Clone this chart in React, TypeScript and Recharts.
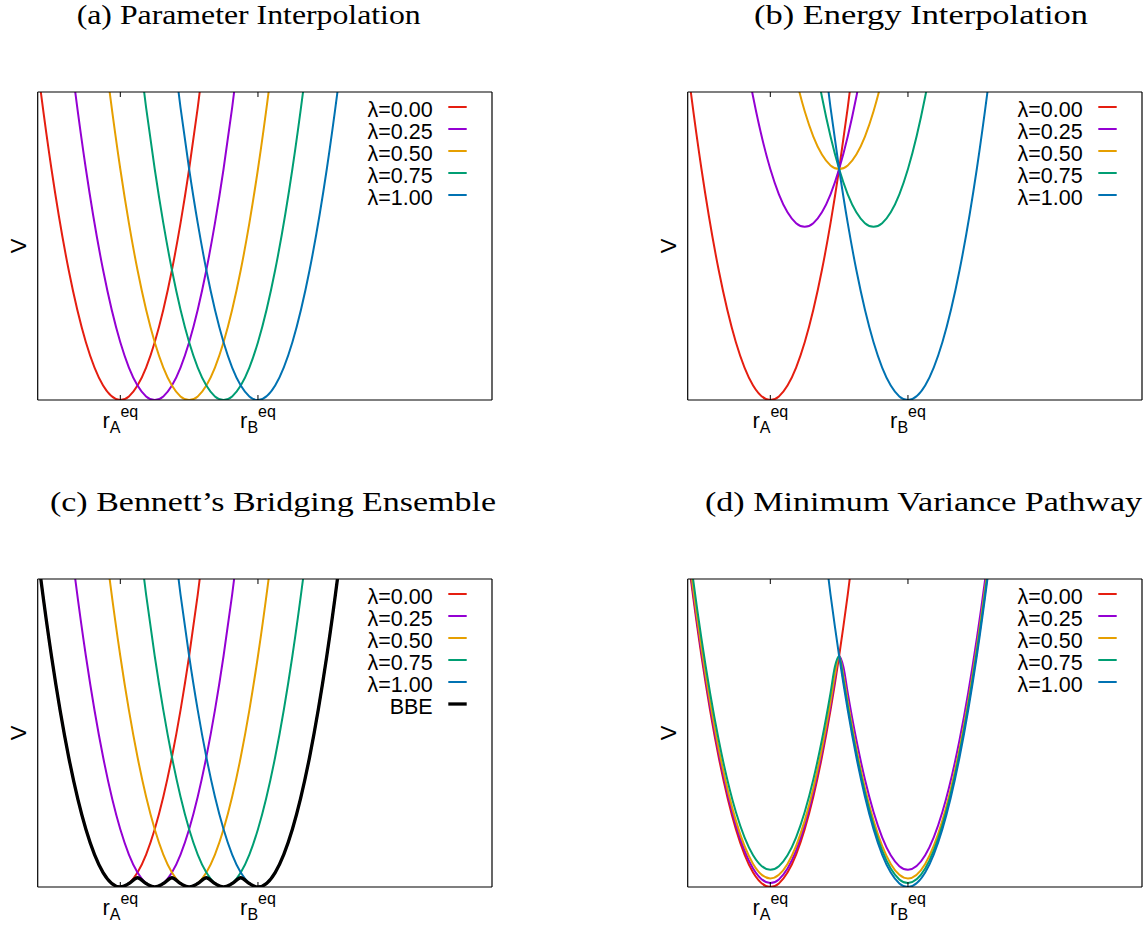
import React from "react";
import { LineChart, Line, XAxis, YAxis, Legend, Label } from "recharts";

const SANS = '"Liberation Sans", Arial, sans-serif';
const SERIF = '"Liberation Serif", "Times New Roman", serif';

// x positions (r, in units where r_A^eq = 0 and r_B^eq = 1)
const X_GRID = [
  -0.75, -0.625, -0.5, -0.375, -0.25, -0.125, 0, 0.0625, 0.125, 0.1875, 0.25, 0.3125, 0.375, 0.4375,
  0.5, 0.5625, 0.625, 0.6875, 0.75, 0.8125, 0.875, 0.9375, 1, 1.125, 1.25, 1.375, 1.5, 1.625, 1.75,
];
// panel (d) needs a couple of extra points around the crossing
const X_GRID_D = [
  -0.75, -0.625, -0.5, -0.375, -0.25, -0.125, 0, 0.0625, 0.125, 0.1875, 0.25, 0.3125, 0.375, 0.4375,
  0.46875, 0.5, 0.53125, 0.5625, 0.625, 0.6875, 0.75, 0.8125, 0.875, 0.9375, 1, 1.125, 1.25, 1.375,
  1.5, 1.625, 1.75,
];

const X_DOMAIN = [-0.6, 2.7];
const TICK_VALUES = [0, 1];
const TICK_SUBS = ["A", "B"];

const LAMBDA_LABELS = ["λ=0.00", "λ=0.25", "λ=0.50", "λ=0.75", "λ=1.00"];
const LAMBDA_COLORS = ["#e51e10", "#9400d3", "#e69f00", "#009e73", "#0072b2"];

const TITLES = [
  "(a) Parameter Interpolation",
  "(b) Energy Interpolation",
  "(c) Bennett’s Bridging Ensemble",
  "(d) Minimum Variance Pathway",
];

const _ = null;

// (a) / (c) parameter interpolation
const PAR_000 = [1.6875, 1.1719, 0.75, 0.4219, 0.1875, 0.0469, 0, 0.0117, 0.0469, 0.1055, 0.1875, 0.293, 0.4219, 0.5742, 0.75, 0.9492, 1.1719, 1.418, 1.6875, _, _, _, _, _, _, _, _, _, _];
const PAR_025 = [_, _, 1.6875, 1.1719, 0.75, 0.4219, 0.1875, 0.1055, 0.0469, 0.0117, 0, 0.0117, 0.0469, 0.1055, 0.1875, 0.293, 0.4219, 0.5742, 0.75, 0.9492, 1.1719, 1.418, 1.6875, _, _, _, _, _, _];
const PAR_050 = [_, _, _, _, 1.6875, 1.1719, 0.75, 0.5742, 0.4219, 0.293, 0.1875, 0.1055, 0.0469, 0.0117, 0, 0.0117, 0.0469, 0.1055, 0.1875, 0.293, 0.4219, 0.5742, 0.75, 1.1719, 1.6875, _, _, _, _];
const PAR_075 = [_, _, _, _, _, _, 1.6875, 1.418, 1.1719, 0.9492, 0.75, 0.5742, 0.4219, 0.293, 0.1875, 0.1055, 0.0469, 0.0117, 0, 0.0117, 0.0469, 0.1055, 0.1875, 0.4219, 0.75, 1.1719, 1.6875, _, _];
const PAR_100 = [_, _, _, _, _, _, _, _, _, _, 1.6875, 1.418, 1.1719, 0.9492, 0.75, 0.5742, 0.4219, 0.293, 0.1875, 0.1055, 0.0469, 0.0117, 0, 0.0469, 0.1875, 0.4219, 0.75, 1.1719, 1.6875];
const BBE = [1.6875, 1.1719, 0.75, 0.4219, 0.1875, 0.0469, 0, 0.0112, 0.03, 0.0112, 0, 0.0112, 0.03, 0.0112, 0, 0.0112, 0.03, 0.0112, 0, 0.0112, 0.03, 0.0112, 0, 0.0469, 0.1875, 0.4219, 0.75, 1.1719, 1.6875];

// (b) energy interpolation
const EN_000 = PAR_000;
const EN_025 = [_, _, _, 1.7344, 1.3125, 0.9844, 0.75, 0.668, 0.6094, 0.5742, 0.5625, 0.5742, 0.6094, 0.668, 0.75, 0.8555, 0.9844, 1.1367, 1.3125, 1.5117, _, _, _, _, _, _, _, _, _];
const EN_050 = [_, _, _, _, _, _, _, 1.3242, 1.1719, 1.043, 0.9375, 0.8555, 0.7969, 0.7617, 0.75, 0.7617, 0.7969, 0.8555, 0.9375, 1.043, 1.1719, 1.3242, _, _, _, _, _, _, _];
const EN_075 = [_, _, _, _, _, _, _, _, _, 1.5117, 1.3125, 1.1367, 0.9844, 0.8555, 0.75, 0.668, 0.6094, 0.5742, 0.5625, 0.5742, 0.6094, 0.668, 0.75, 0.9844, 1.3125, 1.7344, _, _, _];
const EN_100 = PAR_100;

// (d) minimum variance pathway
const MVP_000 = [1.6875, 1.1719, 0.75, 0.4219, 0.1875, 0.0469, 0, 0.0117, 0.0469, 0.1055, 0.1875, 0.293, 0.4219, 0.5742, 0.6592, 0.75, 0.8467, 0.9492, 1.1719, 1.418, 1.6875, _, _, _, _, _, _, _, _, _, _];
const MVP_025 = [1.7005, 1.1849, 0.763, 0.4349, 0.2005, 0.0599, 0.013, 0.0247, 0.0599, 0.1185, 0.2005, 0.306, 0.4349, 0.5872, 0.672, 0.75, 0.714, 0.63, 0.478, 0.349, 0.2435, 0.1615, 0.1029, 0.0677, 0.056, 0.1029, 0.2435, 0.4779, 0.806, 1.2279, 1.7435];
const MVP_050 = [1.7155, 1.1999, 0.778, 0.4499, 0.2155, 0.0749, 0.028, 0.0397, 0.0749, 0.1335, 0.2155, 0.321, 0.4499, 0.6022, 0.687, 0.75, 0.687, 0.6022, 0.4499, 0.321, 0.2155, 0.1335, 0.0749, 0.0397, 0.028, 0.0749, 0.2155, 0.4499, 0.778, 1.1999, 1.7155];
const MVP_075 = [1.7435, 1.2279, 0.806, 0.4779, 0.2435, 0.1029, 0.056, 0.0677, 0.1029, 0.1615, 0.2435, 0.349, 0.478, 0.63, 0.714, 0.75, 0.672, 0.5872, 0.4349, 0.306, 0.2005, 0.1185, 0.0599, 0.0247, 0.013, 0.0599, 0.2005, 0.4349, 0.763, 1.1849, 1.7005];
const MVP_100 = [_, _, _, _, _, _, _, _, _, _, 1.6875, 1.418, 1.1719, 0.9492, 0.8467, 0.75, 0.6592, 0.5742, 0.4219, 0.293, 0.1875, 0.1055, 0.0469, 0.0117, 0, 0.0469, 0.1875, 0.4219, 0.75, 1.1719, 1.6875];

type Series = { key: string; name: string; color: string; width: number };

const LAMBDA_SERIES: Series[] = LAMBDA_LABELS.map((name, i) => ({
  key: `s${i}`,
  name,
  color: LAMBDA_COLORS[i],
  width: 2,
}));
const BBE_SERIES: Series[] = [...LAMBDA_SERIES, { key: "s5", name: "BBE", color: "#000000", width: 3.3 }];

function buildRows(xs: number[], cols: (number | null)[][]) {
  return xs.map((x, i) => {
    const row: Record<string, number | null> = { x };
    cols.forEach((c, j) => {
      row[`s${j}`] = c[i];
    });
    return row;
  });
}

const ROWS_A = buildRows(X_GRID, [PAR_000, PAR_025, PAR_050, PAR_075, PAR_100]);
const ROWS_B = buildRows(X_GRID, [EN_000, EN_025, EN_050, EN_075, EN_100]);
const ROWS_C = buildRows(X_GRID, [PAR_000, PAR_025, PAR_050, PAR_075, PAR_100, BBE]);
const ROWS_D = buildRows(X_GRID_D, [MVP_000, MVP_025, MVP_050, MVP_075, MVP_100]);

function BottomTick(props: any) {
  const { x, y, payload } = props;
  const sub = TICK_SUBS[TICK_VALUES.indexOf(payload.value)];
  return (
    <g>
      <line x1={x} x2={x} y1={y} y2={y - 5} stroke="#000" strokeWidth={1} />
      <text x={x} y={y + 28} textAnchor="middle" fontFamily={SANS} fontSize={22} fill="#000">
        r
        <tspan dy={5} fontSize={16}>{sub}</tspan>
        <tspan dy={-16} fontSize={16}>eq</tspan>
      </text>
    </g>
  );
}

function TopTick(props: any) {
  const { x, y } = props;
  return <line x1={x} x2={x} y1={y} y2={y + 5} stroke="#000" strokeWidth={1} />;
}

function VLabel(props: any) {
  const vb = props.viewBox || { x: 36.7, y: 40, width: 1, height: 308 };
  const cx = vb.x + vb.width - 19;
  const cy = vb.y + vb.height / 2;
  return (
    <text
      x={cx}
      y={cy}
      transform={`rotate(-90, ${cx}, ${cy})`}
      textAnchor="middle"
      dominantBaseline="central"
      fontFamily={SANS}
      fontSize={22}
      fill="#000"
    >
      V
    </text>
  );
}

function makeLegend(series: Series[]) {
  return function LegendBox(props: any) {
    const payload: any[] = props.payload || [];
    const items = series.map((s) => {
      const p = payload.find((e) => e.dataKey === s.key);
      return {
        name: p ? p.value : s.name,
        color: p ? p.color : s.color,
        width: p && p.payload && p.payload.strokeWidth ? p.payload.strokeWidth : s.width,
      };
    });
    return (
      <svg width={140} height={145} style={{ display: "block" }}>
        {items.map((it, i) => (
          <g key={it.name}>
            <text x={92.7} y={25 + 22 * i} textAnchor="end" fontFamily={SANS} fontSize={21.5} fill="#000">
              {it.name}
            </text>
            <line x1={108.3} x2={126.7} y1={15 + 22 * i} y2={15 + 22 * i} stroke={it.color} strokeWidth={it.width} />
          </g>
        ))}
      </svg>
    );
  };
}

const FRAME = { stroke: "#000", strokeWidth: 1.2 };

function Panel({ left, top, rows, series }: { left: number; top: number; rows: any[]; series: Series[] }) {
  return (
    <div style={{ position: "absolute", left, top }}>
      <LineChart width={520} height={395} data={rows} margin={{ top: 39, right: 27, bottom: 7, left: 36.7 }}>
        {series.map((s) => (
          <Line
            key={s.key}
            type="monotone"
            dataKey={s.key}
            name={s.name}
            stroke={s.color}
            strokeWidth={s.width}
            dot={false}
            activeDot={false}
            connectNulls={false}
            isAnimationActive={false}
          />
        ))}
        <XAxis
          type="number"
          dataKey="x"
          domain={X_DOMAIN}
          allowDataOverflow
          ticks={TICK_VALUES}
          interval={0}
          tick={<BottomTick />}
          tickLine={false}
          tickSize={0}
          tickMargin={0}
          height={40}
          axisLine={FRAME}
        />
        <XAxis
          xAxisId="top"
          orientation="top"
          type="number"
          dataKey="x"
          domain={X_DOMAIN}
          allowDataOverflow
          ticks={TICK_VALUES}
          interval={0}
          tick={<TopTick />}
          tickLine={false}
          tickSize={0}
          tickMargin={0}
          height={1}
          axisLine={FRAME}
        />
        <YAxis type="number" domain={[0, 1]} allowDataOverflow width={1} tick={false} tickLine={false} axisLine={FRAME}>
          <Label content={VLabel} />
        </YAxis>
        <YAxis
          yAxisId="right"
          orientation="right"
          type="number"
          domain={[0, 1]}
          allowDataOverflow
          width={1}
          tick={false}
          tickLine={false}
          axisLine={FRAME}
        />
        <Legend
          layout="vertical"
          align="center"
          verticalAlign="middle"
          wrapperStyle={{ left: 340, top: 40, width: 140, height: 145 }}
          content={makeLegend(series)}
        />
      </LineChart>
    </div>
  );
}

function Titles() {
  const spots = [
    { x: 76.7, y: 24, len: 344 },
    { x: 754, y: 24, len: 334 },
    { x: 50, y: 511, len: 446 },
    { x: 705, y: 511, len: 437 },
  ];
  return (
    <svg width={1148} height={926} style={{ position: "absolute", left: 0, top: 0 }}>
      {TITLES.map((t, i) => (
        <text
          key={t}
          x={spots[i].x}
          y={spots[i].y}
          textLength={spots[i].len}
          lengthAdjust="spacingAndGlyphs"
          fontFamily={SERIF}
          fontSize={28}
          fill="#000"
        >
          {t}
        </text>
      ))}
    </svg>
  );
}

export default function App() {
  return (
    <div style={{ position: "absolute", left: 0, top: 0, width: 1148, height: 926, background: "#fff" }}>
      <Titles />
      <Panel left={0} top={52} rows={ROWS_A} series={LAMBDA_SERIES} />
      <Panel left={650} top={52} rows={ROWS_B} series={LAMBDA_SERIES} />
      <Panel left={0} top={539} rows={ROWS_C} series={BBE_SERIES} />
      <Panel left={650} top={539} rows={ROWS_D} series={LAMBDA_SERIES} />
    </div>
  );
}
